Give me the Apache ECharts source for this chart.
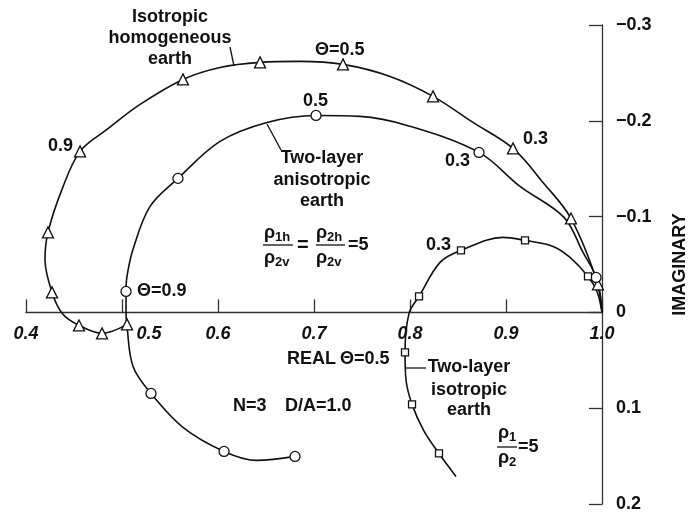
<!DOCTYPE html>
<html>
<head>
<meta charset="utf-8">
<script src="https://cdn.jsdelivr.net/npm/echarts@6/dist/echarts.min.js"></script>
<style>
html,body{margin:0;padding:0;background:#fff;}
#chart{width:690px;height:514px;}
</style>
</head>
<body>
<div id="chart"></div>
<script>
// ---------- data (real, imaginary) ----------
const xTicks = [0.4, 0.5, 0.6, 0.7, 0.8, 0.9, 1.0];
const yTicks = [-0.3, -0.2, -0.1, 0, 0.1, 0.2];

// Isotropic homogeneous earth (triangles)
const isoHomCurve = [
  [1.0, 0], [0.9958, -0.0292], [0.9677, -0.0981], [0.9385, -0.1357], [0.9073, -0.1712],
  [0.8656, -0.1983], [0.8240, -0.2255], [0.7792, -0.2463], [0.7302, -0.2589], [0.6854, -0.2620],
  [0.6438, -0.2610], [0.6021, -0.2557], [0.5635, -0.2432], [0.5188, -0.2171], [0.4844, -0.1910],
  [0.4563, -0.1681], [0.4375, -0.1284], [0.4229, -0.0835], [0.4198, -0.0553], [0.4271, -0.0209],
  [0.4385, 0.0020], [0.4552, 0.0136], [0.4792, 0.0219], [0.5052, 0.0125]
];
const isoHomMarks = [
  [0.9958, -0.0292], [0.9677, -0.0981], [0.9073, -0.1712], [0.8240, -0.2255], [0.7302, -0.2589],
  [0.6438, -0.2610], [0.5635, -0.2432], [0.4563, -0.1681], [0.4229, -0.0835], [0.4271, -0.0209],
  [0.4552, 0.0136], [0.4792, 0.0219], [0.5052, 0.0125]
];

// Two-layer anisotropic earth (circles)
const anisoCurve = [
  [1.0, 0], [0.9938, -0.0365], [0.9802, -0.0626], [0.9604, -0.0992], [0.9146, -0.1315],
  [0.8719, -0.1670], [0.7969, -0.1952], [0.7479, -0.2046], [0.7021, -0.2056], [0.6510, -0.1983],
  [0.6021, -0.1785], [0.5583, -0.1399], [0.5292, -0.1106], [0.5115, -0.0658], [0.5052, -0.0376],
  [0.5042, -0.0219], [0.5042, 0], [0.5052, 0.0146], [0.5115, 0.0564], [0.5302, 0.0846],
  [0.5635, 0.1200], [0.6063, 0.1451], [0.6406, 0.1545], [0.6802, 0.1503]
];
const anisoMarks = [
  [0.9938, -0.0365], [0.8719, -0.1670], [0.7021, -0.2056], [0.5583, -0.1399], [0.5042, -0.0219],
  [0.5302, 0.0846], [0.6063, 0.1451], [0.6802, 0.1503]
];

// Two-layer isotropic earth (squares)
const isoLayerCurve = [
  [1.0, 0], [0.9948, -0.0219], [0.9854, -0.0376], [0.9667, -0.0574], [0.9490, -0.0689],
  [0.9198, -0.0752], [0.8969, -0.0783], [0.8531, -0.0647], [0.8313, -0.0522], [0.8094, -0.0167],
  [0.7990, 0.0010], [0.7948, 0.0418], [0.7958, 0.0700], [0.8021, 0.0960], [0.8146, 0.1240],
  [0.8302, 0.1472], [0.8479, 0.1712]
];
const isoLayerMarks = [
  [0.9854, -0.0376], [0.9198, -0.0752], [0.8531, -0.0647], [0.8094, -0.0167], [0.7948, 0.0418],
  [0.8021, 0.0960], [0.8302, 0.1472]
];

// ---------- chart ----------
const FONT = '"Liberation Sans", Arial, Helvetica, sans-serif';
const INK = '#111';
const chart = echarts.init(document.getElementById('chart'), null, {renderer: 'canvas'});

function fmtY(v) {
  const r = Math.round(v * 10) / 10;
  if (r === 0) return '0';
  return (r < 0 ? '\u2212' : '') + Math.abs(r).toFixed(1);
}

function lineSeries(data) {
  return {
    type: 'line', data: data, smooth: 0.35, showSymbol: false, symbol: 'none',
    lineStyle: {color: INK, width: 1.6}, z: 2, silent: true, animation: false
  };
}
function markSeries(data, symbol, size) {
  return {
    type: 'scatter', data: data, symbol: symbol, symbolSize: size,
    itemStyle: {color: '#fff', borderColor: INK, borderWidth: 1.3, opacity: 1},
    z: 3, silent: true, animation: false
  };
}

function t(text, x, y, opts) {
  opts = opts || {};
  const el = {
    type: 'text', silent: true, z: 10,
    style: {
      text: text, x: 0, y: 0,
      font: (opts.italic ? 'italic ' : '') + 'bold ' + (opts.size || 18) + 'px ' + FONT,
      fill: INK, textAlign: opts.align || 'left', textVerticalAlign: 'middle'
    },
    x: x, y: y
  };
  if (opts.rotation) el.rotation = opts.rotation;
  return el;
}
function ln(x1, y1, x2, y2, w) {
  return {type: 'line', silent: true, z: 10, shape: {x1: x1, y1: y1, x2: x2, y2: y2},
    style: {stroke: INK, lineWidth: w || 1.3}};
}
function rhoSub(x, y, sub) {
  return [t('\u03c1', x, y, {size: 18}), t(sub, x + 11, y + 4, {size: 13})];
}

const option = {
  animation: false,
  backgroundColor: '#fff',
  textStyle: {fontFamily: FONT},
  grid: {left: 26, right: 88, top: 25, bottom: 10, outerBoundsMode: 'none', containLabel: false},
  xAxis: {
    type: 'value', min: xTicks[0], max: xTicks[xTicks.length - 1], interval: 0.1,
    axisLine: {show: true, onZero: true, lineStyle: {color: '#333', width: 1.3}},
    axisTick: {show: true, inside: true, length: 13, lineStyle: {color: '#333', width: 1.3}},
    splitLine: {show: false},
    axisLabel: {show: false}
  },
  yAxis: {
    type: 'value', position: 'right', inverse: true,
    min: yTicks[0], max: yTicks[yTicks.length - 1], interval: 0.1,
    axisLine: {show: true, onZero: false, lineStyle: {color: '#333', width: 1.3}},
    axisTick: {show: true, inside: true, length: 13, lineStyle: {color: '#333', width: 1.3}},
    splitLine: {show: false},
    axisLabel: {formatter: fmtY, fontWeight: 'bold', fontSize: 18, color: INK, margin: 14,
      showMinLabel: true, showMaxLabel: true, fontFamily: FONT}
  },
  series: [
    lineSeries(isoHomCurve),
    lineSeries(anisoCurve),
    lineSeries(isoLayerCurve),
    markSeries(isoHomMarks, 'triangle', 11),
    markSeries(anisoMarks, 'circle', 10),
    markSeries(isoLayerMarks, 'rect', 7)
  ]
};
chart.setOption(option);

// x tick labels, placed through the axis scale (0.5 label is nudged right of the curves, as in the original)
const xLabelNudge = {'0.5': 27};
const xLabelEls = xTicks.map(v => {
  const p = chart.convertToPixel({xAxisIndex: 0, yAxisIndex: 0}, [v, 0]);
  const key = v.toFixed(1);
  return t(key, p[0] + (xLabelNudge[key] || 0), p[1] + 22, {align: 'center', italic: true});
});
const yMid = chart.convertToPixel({xAxisIndex: 0, yAxisIndex: 0}, [1.0, (yTicks[0] + yTicks[yTicks.length - 1]) / 2]);

const graphics = [
  ...xLabelEls,
  t('IMAGINARY', yMid[0] + 78, yMid[1], {align: 'center', rotation: Math.PI / 2}),
  t('Isotropic', 170, 17, {align: 'center'}),
  t('homogeneous', 170, 38, {align: 'center'}),
  t('earth', 170, 59, {align: 'center'}),
  ln(230, 47, 234, 66),
  t('\u0398=0.5', 315, 50),
  t('0.5', 303, 101),
  t('0.9', 48, 146),
  t('Two-layer', 322, 158, {align: 'center'}),
  t('anisotropic', 322, 180, {align: 'center'}),
  t('earth', 322, 201, {align: 'center'}),
  ln(267, 124, 281, 150),
  t('0.3', 523, 139),
  t('0.3', 445, 161),
  ...rhoSub(264, 233, '1h'),
  ln(263, 245, 293, 245),
  ...rhoSub(264, 258, '2v'),
  t('=', 297, 245, {size: 20}),
  ...rhoSub(316, 233, '2h'),
  ln(316, 245, 345, 245),
  ...rhoSub(316, 258, '2v'),
  t('=5', 348, 245),
  t('0.3', 426, 245),
  t('\u0398=0.9', 137, 291),
  t('REAL', 287, 359),
  t('\u0398=0.5', 340, 359),
  t('N=3', 233, 406),
  t('D/A=1.0', 285, 406),
  t('Two-layer', 469, 367, {align: 'center'}),
  t('isotropic', 469, 390, {align: 'center'}),
  t('earth', 469, 410, {align: 'center'}),
  ln(406, 368, 426, 368),
  ...rhoSub(498, 433, '1'),
  ln(497, 447, 517, 447),
  ...rhoSub(498, 458, '2'),
  t('=5', 518, 447)
];
chart.setOption({graphic: graphics});
</script>
</body>
</html>
